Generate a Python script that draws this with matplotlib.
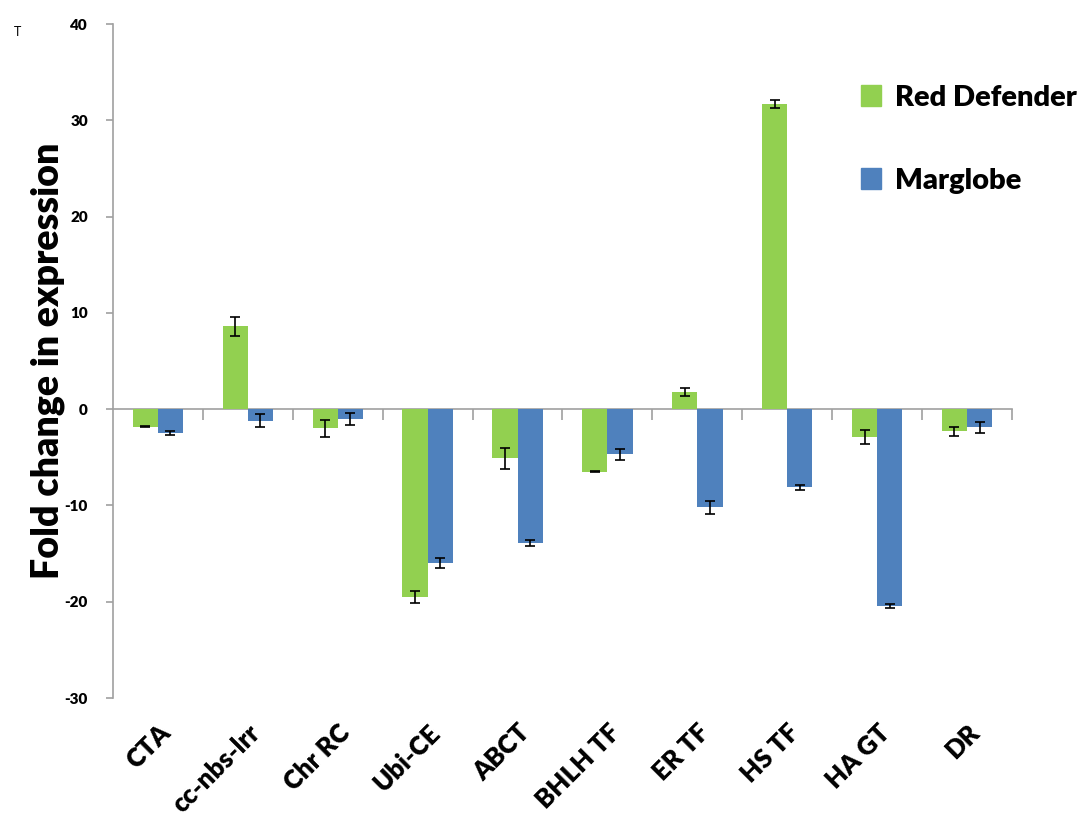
import matplotlib
matplotlib.use("Agg")
import matplotlib.pyplot as plt
import numpy as np
from matplotlib.patches import Patch

categories = ["CTA", "cc-nbs-lrr", "Chr RC", "Ubi-CE", "ABCT", "BHLH TF", "ER TF", "HS TF", "HA GT", "DR"]
red_defender = [-1.8, 8.6, -2.0, -19.5, -5.1, -6.5, 1.8, 31.7, -2.9, -2.3]
red_defender_err = [0.05, 1.0, 0.9, 0.6, 1.1, 0.05, 0.4, 0.4, 0.7, 0.5]
marglobe = [-2.5, -1.2, -1.0, -16.0, -13.9, -4.7, -10.2, -8.1, -20.4, -1.9]
marglobe_err = [0.2, 0.7, 0.6, 0.5, 0.35, 0.6, 0.7, 0.25, 0.2, 0.6]
yticks = [-30, -20, -10, 0, 10, 20, 30, 40]

plt.rcParams['font.family'] = ['Lato', 'DejaVu Sans']

fig = plt.figure(figsize=(10.82, 8.3), dpi=100)
ax = fig.add_axes([0.1044, 0.159, 0.9353 - 0.1044, 0.971 - 0.159])

x = np.arange(len(categories))
w = 0.28
green = "#92D050"
blue = "#4F81BD"
ekw = dict(ecolor="black", elinewidth=1.2, capthick=1.2)
ax.bar(x - w / 2, red_defender, w, color=green, yerr=red_defender_err, capsize=3.5, error_kw=ekw, zorder=2)
ax.bar(x + w / 2, marglobe, w, color=blue, yerr=marglobe_err, capsize=3.5, error_kw=ekw, zorder=2)

ax.set_xlim(-0.5, len(categories) - 0.5)
ax.set_ylim(-30, 40)
ax.set_yticks(yticks)
ax.set_yticklabels([str(v) for v in yticks], fontsize=11, fontweight='heavy')

for s in ['top', 'right']:
    ax.spines[s].set_visible(False)
ax.spines['left'].set_color('#a0a0a0')
ax.spines['left'].set_linewidth(1.2)
ax.spines['bottom'].set_position(('data', 0))
ax.spines['bottom'].set_color('#a0a0a0')
ax.spines['bottom'].set_linewidth(1.2)
ax.spines['bottom'].set_zorder(1)
ax.tick_params(axis='y', direction='out', length=5, color='#a0a0a0', width=1.2, pad=13)
ax.set_xticks(np.arange(0.5, len(categories), 1.0))
ax.tick_params(axis='x', direction='out', length=8, color='#a0a0a0', width=1.2, labelbottom=False)

sec = ax.secondary_xaxis('bottom')
sec.spines['bottom'].set_visible(False)
sec.set_xticks(x)
sec.set_xticklabels(categories, rotation=45, ha='right', rotation_mode='anchor',
                    fontsize=18.5, fontweight='heavy')
sec.tick_params(axis='x', length=0, pad=16)

ax.set_ylabel("Fold change in expression", fontsize=27, fontweight='heavy', labelpad=0)

handles = [Patch(color=green, label="Red Defender"), Patch(color=blue, label="Marglobe")]
fig.legend(handles=handles, loc='upper left', bbox_to_anchor=(0.785, 0.912), frameon=False,
           prop=dict(size=21, weight='heavy'), labelspacing=1.95, handlelength=0.7, handleheight=0.7,
           handletextpad=0.45, borderaxespad=0)

fig.text(0.013, 0.962, "T", fontsize=9, va='center', ha='left')

fig.savefig("out.png", dpi=100)
